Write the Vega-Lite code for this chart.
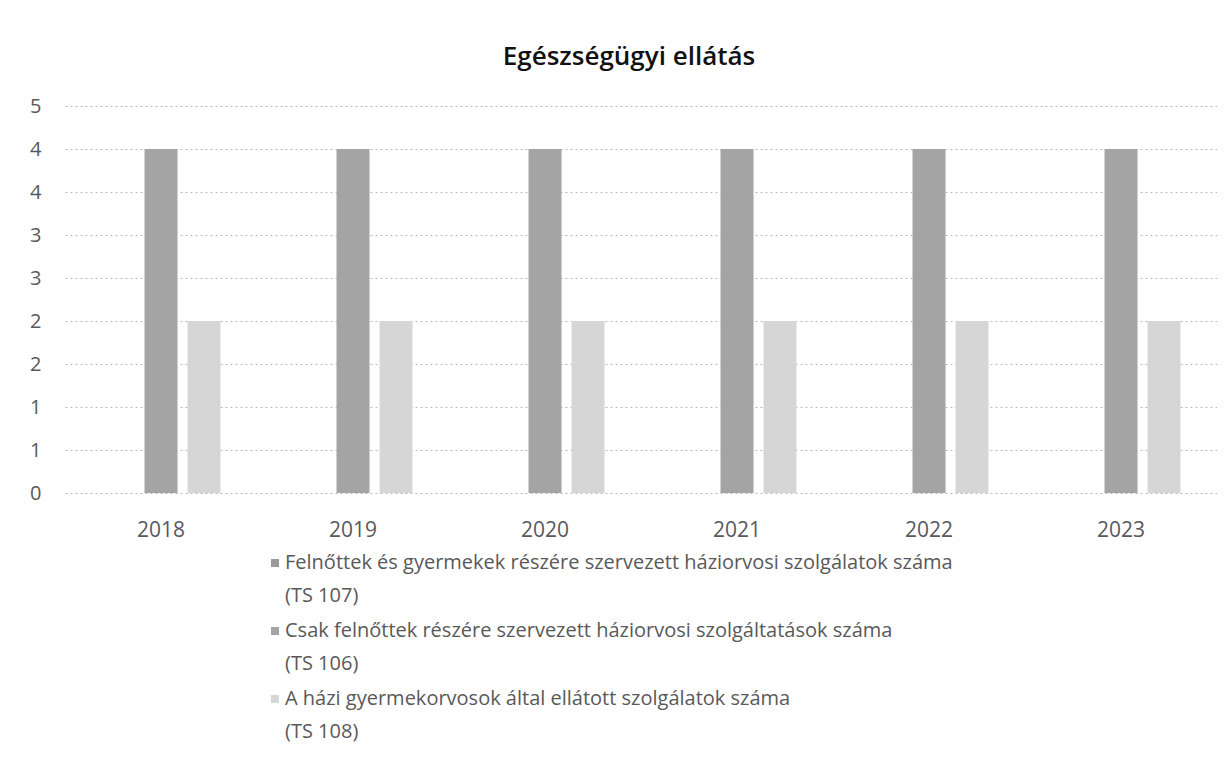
{
  "$schema": "https://vega.github.io/schema/vega-lite/v6.json",
  "width": 1152,
  "height": 387,
  "padding": {"left": 29, "top": 44, "right": 0, "bottom": 30},
  "background": "white",
  "view": {"stroke": null},
  "title": {"text": "Egészségügyi ellátás", "fontSize": 26, "font": "Open Sans", "fontWeight": 600, "color": "#111111", "offset": 26, "anchor": "middle", "dx": -12},
  "data": {"values": [
    {"year": "2018", "series": "Felnőttek és gyermekek részére szervezett háziorvosi szolgálatok száma|(TS 107)", "value": 0},
    {"year": "2018", "series": "Csak felnőttek részére szervezett háziorvosi szolgáltatások száma|(TS 106)", "value": 4},
    {"year": "2018", "series": "A házi gyermekorvosok által ellátott szolgálatok száma|(TS 108)", "value": 2},
    {"year": "2019", "series": "Felnőttek és gyermekek részére szervezett háziorvosi szolgálatok száma|(TS 107)", "value": 0},
    {"year": "2019", "series": "Csak felnőttek részére szervezett háziorvosi szolgáltatások száma|(TS 106)", "value": 4},
    {"year": "2019", "series": "A házi gyermekorvosok által ellátott szolgálatok száma|(TS 108)", "value": 2},
    {"year": "2020", "series": "Felnőttek és gyermekek részére szervezett háziorvosi szolgálatok száma|(TS 107)", "value": 0},
    {"year": "2020", "series": "Csak felnőttek részére szervezett háziorvosi szolgáltatások száma|(TS 106)", "value": 4},
    {"year": "2020", "series": "A házi gyermekorvosok által ellátott szolgálatok száma|(TS 108)", "value": 2},
    {"year": "2021", "series": "Felnőttek és gyermekek részére szervezett háziorvosi szolgálatok száma|(TS 107)", "value": 0},
    {"year": "2021", "series": "Csak felnőttek részére szervezett háziorvosi szolgáltatások száma|(TS 106)", "value": 4},
    {"year": "2021", "series": "A házi gyermekorvosok által ellátott szolgálatok száma|(TS 108)", "value": 2},
    {"year": "2022", "series": "Felnőttek és gyermekek részére szervezett háziorvosi szolgálatok száma|(TS 107)", "value": 0},
    {"year": "2022", "series": "Csak felnőttek részére szervezett háziorvosi szolgáltatások száma|(TS 106)", "value": 4},
    {"year": "2022", "series": "A házi gyermekorvosok által ellátott szolgálatok száma|(TS 108)", "value": 2},
    {"year": "2023", "series": "Felnőttek és gyermekek részére szervezett háziorvosi szolgálatok száma|(TS 107)", "value": 0},
    {"year": "2023", "series": "Csak felnőttek részére szervezett háziorvosi szolgáltatások száma|(TS 106)", "value": 4},
    {"year": "2023", "series": "A házi gyermekorvosok által ellátott szolgálatok száma|(TS 108)", "value": 2}
  ]},
  "mark": {"type": "bar"},
  "encoding": {
    "x": {
      "field": "year", "type": "nominal",
      "scale": {"paddingInner": 0.38, "paddingOuter": 0.19},
      "axis": {"title": null, "labelAngle": 0, "domain": false, "ticks": false, "labelPadding": 26, "labelFontSize": 21, "labelColor": "#595959", "labelFont": "Open Sans", "grid": false}
    },
    "xOffset": {
      "field": "series", "type": "nominal",
      "sort": ["Felnőttek és gyermekek részére szervezett háziorvosi szolgálatok száma|(TS 107)", "Csak felnőttek részére szervezett háziorvosi szolgáltatások száma|(TS 106)", "A házi gyermekorvosok által ellátott szolgálatok száma|(TS 108)"],
      "scale": {"paddingInner": 0.2326, "paddingOuter": 0}
    },
    "y": {
      "field": "value", "type": "quantitative",
      "scale": {"domain": [0, 4.5], "nice": false},
      "axis": {"title": null, "values": [0, 0.5, 1, 1.5, 2, 2.5, 3, 3.5, 4, 4.5], "labelExpr": "round(datum.value)", "domain": false, "ticks": false, "labelPadding": 24, "labelFontSize": 20, "labelColor": "#595959", "labelFont": "Open Sans", "gridDash": [2, 3], "gridColor": "#b8b8b8", "gridWidth": 1}
    },
    "color": {
      "field": "series", "type": "nominal",
      "sort": ["Felnőttek és gyermekek részére szervezett háziorvosi szolgálatok száma|(TS 107)", "Csak felnőttek részére szervezett háziorvosi szolgáltatások száma|(TS 106)", "A házi gyermekorvosok által ellátott szolgálatok száma|(TS 108)"],
      "scale": {"domain": ["Felnőttek és gyermekek részére szervezett háziorvosi szolgálatok száma|(TS 107)", "Csak felnőttek részére szervezett háziorvosi szolgáltatások száma|(TS 106)", "A házi gyermekorvosok által ellátott szolgálatok száma|(TS 108)"], "range": ["#9a9a9a", "#a4a4a4", "#d6d6d6"]},
      "legend": {
        "title": null, "orient": "none", "legendX": 200, "legendY": 447, "direction": "vertical",
        "symbolType": "square", "symbolSize": 64, "symbolStrokeWidth": 0,
        "labelFontSize": 20, "labelColor": "#595959", "labelFont": "Open Sans", "labelLimit": 1000, "labelOffset": 0,
        "labelExpr": "split(datum.label, '|')", "rowPadding": 15,
        "encode": {"labels": {"update": {"lineHeight": {"value": 33}}}}
      }
    }
  }
}
